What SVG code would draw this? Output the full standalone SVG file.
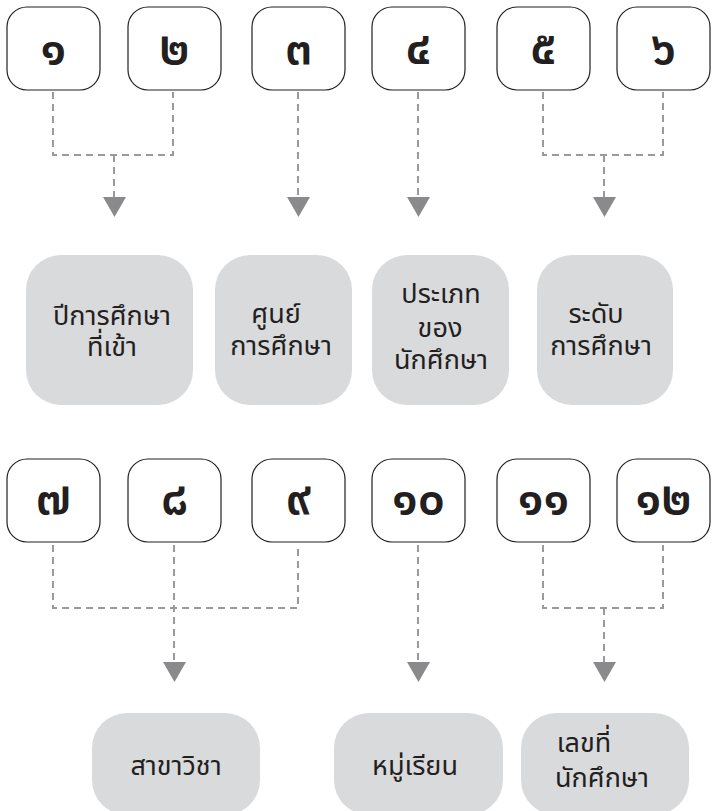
<svg xmlns="http://www.w3.org/2000/svg" width="715" height="811" viewBox="0 0 715 811">
<defs>
<style>
.num rect{fill:#fff;stroke:#231f20;stroke-width:1.2}
.num text{font-family:"Noto Sans Thai","Noto Sans","DejaVu Sans",sans-serif;font-size:48px;font-weight:600;fill:#231f20;text-anchor:middle}
.cat rect{fill:#d9dadc}
.cat text{font-family:"Noto Sans Thai","Noto Sans","DejaVu Sans",sans-serif;font-size:27px;fill:#231f20;text-anchor:middle}
.conn path{fill:none;stroke:#9a9a9c;stroke-width:2;stroke-dasharray:7 5}
.conn polygon{fill:#8a8a8d}
</style>
</defs>
<rect width="715" height="811" fill="#fff"/>
<g class="conn">
<path d="M53 92V155H173V92M114 155V197"/>
<path d="M298 92V197"/>
<path d="M418 92V197"/>
<path d="M543 92V155H663V92M604 155V197"/>
<polygon points="103,197 126,197 114.5,217"/>
<polygon points="287,197 310,197 298.5,217"/>
<polygon points="407,197 430,197 418.5,217"/>
<polygon points="593,197 616,197 604.5,217"/>
<path d="M53 545V608H298V545M174 545V662"/>
<path d="M418 545V662"/>
<path d="M543 545V608H663V545M604 608V662"/>
<polygon points="163,662 186,662 174.5,682"/>
<polygon points="407,662 430,662 418.5,682"/>
<polygon points="593,662 616,662 604.5,682"/>
</g>
<g id="n1" class="num"><rect x="7" y="7" width="93" height="83" rx="20"/><text x="53.5" y="64">๑</text></g>
<g id="n2" class="num"><rect x="128" y="7" width="93" height="83" rx="20"/><text x="174.5" y="64">๒</text></g>
<g id="n3" class="num"><rect x="252" y="7" width="93" height="83" rx="20"/><text x="298.5" y="64">๓</text></g>
<g id="n4" class="num"><rect x="372" y="7" width="93" height="83" rx="20"/><text x="418.5" y="64">๔</text></g>
<g id="n5" class="num"><rect x="497" y="7" width="93" height="83" rx="20"/><text x="543.5" y="64">๕</text></g>
<g id="n6" class="num"><rect x="617" y="7" width="93" height="83" rx="20"/><text x="663.5" y="64">๖</text></g>
<g id="c1" class="cat"><rect x="26" y="255" width="167" height="150" rx="35"/><text x="112" y="325">ปีการศึกษา</text><text x="112" y="356">ที่เข้า</text></g>
<g id="c2" class="cat"><rect x="215" y="255" width="137" height="150" rx="35"/><text x="276" y="323">ศูนย์</text><text x="281" y="355">การศึกษา</text></g>
<g id="c3" class="cat"><rect x="372" y="255" width="137" height="150" rx="35"/><text x="441" y="303">ประเภท</text><text x="440" y="337">ของ</text><text x="441" y="369">นักศึกษา</text></g>
<g id="c4" class="cat"><rect x="537" y="255" width="136" height="150" rx="35"/><text x="596" y="323">ระดับ</text><text x="601" y="355">การศึกษา</text></g>
<g id="n7" class="num"><rect x="7" y="459" width="93" height="83" rx="20"/><text x="53.5" y="514">๗</text></g>
<g id="n8" class="num"><rect x="128" y="459" width="93" height="83" rx="20"/><text x="174.5" y="514">๘</text></g>
<g id="n9" class="num"><rect x="252" y="459" width="93" height="83" rx="20"/><text x="298.5" y="514">๙</text></g>
<g id="n10" class="num"><rect x="372" y="459" width="93" height="83" rx="20"/><text x="418.5" y="514">๑๐</text></g>
<g id="n11" class="num"><rect x="497" y="459" width="93" height="83" rx="20"/><text x="543.5" y="514">๑๑</text></g>
<g id="n12" class="num"><rect x="617" y="459" width="93" height="83" rx="20"/><text x="663.5" y="514">๑๒</text></g>
<g id="c5" class="cat"><rect x="92" y="713" width="168" height="102" rx="35"/><text x="176" y="775">สาขาวิชา</text></g>
<g id="c6" class="cat"><rect x="334" y="713" width="169" height="102" rx="35"/><text x="415" y="775">หมู่เรียน</text></g>
<g id="c7" class="cat"><rect x="521" y="713" width="168" height="102" rx="35"/><text x="584" y="752">เลขที่</text><text x="602" y="787">นักศึกษา</text></g>
</svg>
